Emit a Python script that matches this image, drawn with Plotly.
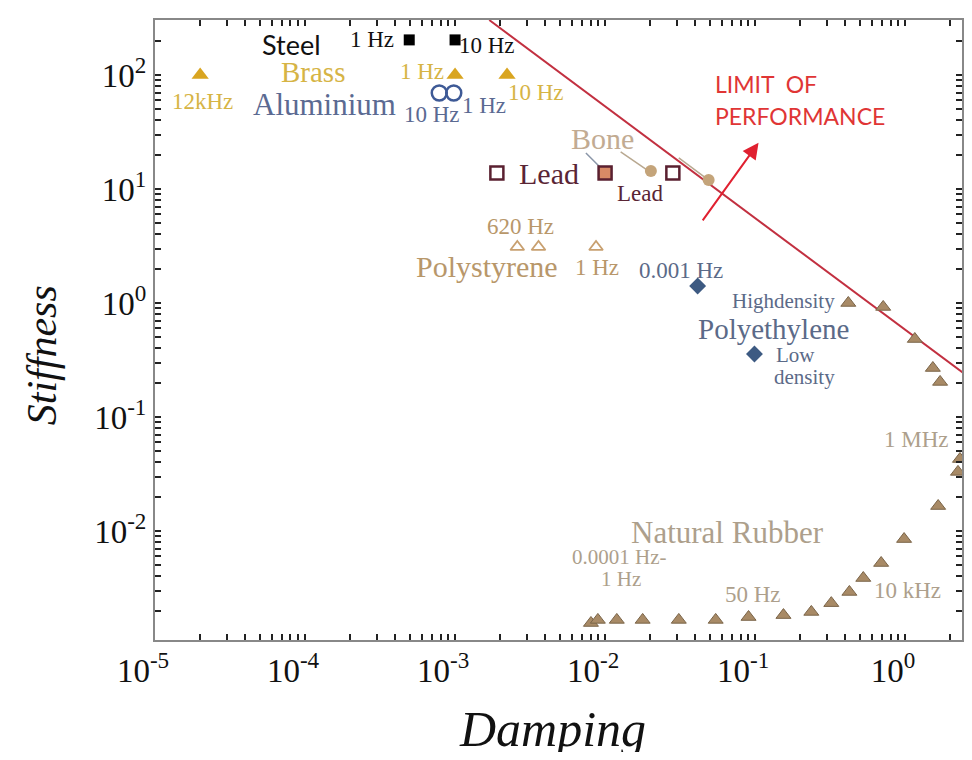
import plotly.graph_objects as go
import math

# ---------------- data ----------------
steel_x = [4.95e-4, 1.0e-3]
steel_y = [203, 203]

brass_x = [2.0e-5, 1.0e-3, 2.22e-3]
brass_y = [100, 100, 100]

alu_x = [7.85e-4, 9.8e-4]
alu_y = [69.5, 69.5]

lead_open_x = [1.9e-3, 2.83e-2]
lead_open_y = [13.8, 13.8]
lead_fill_x = [1.0e-2]
lead_fill_y = [13.8]

bone_x = [0.0202, 0.049]
bone_y = [14.4, 12.0]

polystyrene_x = [2.6e-3, 3.6e-3, 8.7e-3]
polystyrene_y = [3.1, 3.1, 3.1]

polyethylene_x = [0.0414, 0.099]
polyethylene_y = [1.41, 0.357]

rubber_x = [8.05e-3, 8.95e-3, 0.01197, 0.0178, 0.031, 0.0546, 0.0904, 0.1545,
            0.237, 0.322, 0.425, 0.526, 0.692, 0.984, 1.66, 2.25, 2.32, 2.51,
            1.71, 1.53, 1.16, 0.714, 0.418]
rubber_y = [1.56e-3, 1.66e-3, 1.66e-3, 1.66e-3, 1.66e-3, 1.66e-3, 1.76e-3, 1.83e-3,
            1.95e-3, 2.33e-3, 2.92e-3, 3.87e-3, 5.24e-3, 8.5e-3, 0.01656, 0.033, 0.0428, 0.0641,
            0.203, 0.269, 0.483, 0.923, 1.0]

limit_x = [1.69e-3, 2.7]
limit_y = [303, 0.22]

leader_lines = [
    ([7.45e-3, 9.38e-3], [20.7, 15.3], "#8a96a8"),
    ([0.0127, 0.019], [21.1, 14.7], "#b8a890"),
    ([0.031, 0.0468], [18.7, 12.5], "#b8a890"),
]

x_decades = [-5, -4, -3, -2, -1, 0]
y_decades = [-2, -1, 0, 1, 2]

# labels: text, log10 x, log10 y, color, size, family
SERIF = "Liberation Serif"
SANS = "Lato"
labels = [
    ("Steel", -4.089, 2.263, "#111111", 27, SANS),
    ("1 Hz", -3.551, 2.307, "#111111", 23, SERIF),
    ("10 Hz", -2.786, 2.254, "#111111", 23, SERIF),
    ("Brass", -3.949, 2.026, "#d6b445", 29, SERIF),
    ("1 Hz", -3.218, 2.026, "#d6b445", 23, SERIF),
    ("12kHz", -4.681, 1.763, "#d6b445", 23, SERIF),
    ("10 Hz", -2.46, 1.842, "#d6b445", 23, SERIF),
    ("Aluminium", -3.870, 1.737, "#5b6a92", 31, SERIF),
    ("10 Hz", -3.152, 1.649, "#5b6a92", 23, SERIF),
    ("1 Hz", -2.806, 1.728, "#5b6a92", 23, SERIF),
    ("Bone", -2.015, 1.447, "#c2ab92", 30, SERIF),
    ("Lead", -2.374, 1.132, "#5a2535", 30, SERIF),
    ("Lead", -1.769, 0.956, "#5a2535", 23, SERIF),
    ("620 Hz", -2.566, 0.667, "#b8976a", 23, SERIF),
    ("Polystyrene", -2.786, 0.316, "#b8976a", 30, SERIF),
    ("1 Hz", -2.055, 0.307, "#b8976a", 23, SERIF),
    ("0.001 Hz", -1.496, 0.289, "#5b6a88", 23, SERIF),
    ("Highdensity", -0.811, 0.018, "#5b6a88", 21, SERIF),
    ("Polyethylene", -0.878, -0.228, "#5b6a88", 29, SERIF),
    ("Low", -0.731, -0.46, "#5b6a88", 21, SERIF),
    ("density", -0.672, -0.652, "#5b6a88", 21, SERIF),
    ("1 MHz", 0.073, -1.193, "#ad9f8c", 23, SERIF),
    ("Natural Rubber", -1.184, -2.009, "#ad9f8c", 31, SERIF),
    ("0.0001 Hz-", -1.908, -2.228, "#ad9f8c", 21, SERIF),
    ("1 Hz", -1.895, -2.42, "#ad9f8c", 21, SERIF),
    ("50 Hz", -1.011, -2.553, "#ad9f8c", 23, SERIF),
    ("10 kHz", 0.013, -2.518, "#ad9f8c", 23, SERIF),
]

# ---------------- figure ----------------
fig = go.Figure()

fig.add_trace(go.Scatter(x=limit_x, y=limit_y, mode="lines",
                         line=dict(color="#c23040", width=2), hoverinfo="skip"))

for lx, ly, col in leader_lines:
    fig.add_trace(go.Scatter(x=lx, y=ly, mode="lines",
                             line=dict(color=col, width=1.5), hoverinfo="skip"))

fig.add_trace(go.Scatter(x=steel_x, y=steel_y, mode="markers",
                         marker=dict(symbol="square", size=11, color="#000000")))
fig.add_trace(go.Scatter(x=brass_x, y=brass_y, mode="markers",
                         marker=dict(symbol="triangle-up", size=15, color="#d9a520")))
fig.add_trace(go.Scatter(x=alu_x, y=alu_y, mode="markers",
                         marker=dict(symbol="circle-open", size=15, color="#3e5a96",
                                     line=dict(width=2.5))))
fig.add_trace(go.Scatter(x=lead_open_x, y=lead_open_y, mode="markers",
                         marker=dict(symbol="square", size=13, color="#ffffff",
                                     line=dict(color="#5a2030", width=2.5))))
fig.add_trace(go.Scatter(x=lead_fill_x, y=lead_fill_y, mode="markers",
                         marker=dict(symbol="square", size=13, color="#d88a66",
                                     line=dict(color="#5a2030", width=2.5))))
fig.add_trace(go.Scatter(x=bone_x, y=bone_y, mode="markers",
                         marker=dict(symbol="circle", size=12, color="#c4a47a")))
fig.add_trace(go.Scatter(x=polystyrene_x, y=polystyrene_y, mode="markers",
                         marker=dict(symbol="triangle-up-open", size=12, color="#c8a070",
                                     line=dict(width=1.8))))
fig.add_trace(go.Scatter(x=polyethylene_x, y=polyethylene_y, mode="markers",
                         marker=dict(symbol="diamond", size=13, color="#3d5a82")))
fig.add_trace(go.Scatter(x=rubber_x, y=rubber_y, mode="markers", cliponaxis=False,
                         marker=dict(symbol="triangle-up", size=13, color="#a88a66",
                                     line=dict(color="#7a6448", width=1))))

annotations = []
for text, ax_, ay_, col, size, fam in labels:
    annotations.append(dict(x=ax_, y=ay_, xref="x", yref="y", text=text, showarrow=False,
                            font=dict(color=col, size=size, family=fam),
                            xanchor="center", yanchor="middle"))

annotations += [
    dict(x=-1.283, y=1.921, xref="x", yref="y", text="LIMIT&nbsp;&nbsp;OF", showarrow=False,
         xanchor="left", yanchor="middle", font=dict(color="#e03535", size=23, family=SANS)),
    dict(x=-1.283, y=1.640, xref="x", yref="y", text="PERFORMANCE", showarrow=False,
         xanchor="left", yanchor="middle", font=dict(color="#e03535", size=23, family=SANS)),
    dict(x=math.log10(0.1054), y=math.log10(25.4), ax=math.log10(0.044), ay=math.log10(5.14),
         xref="x", yref="y", axref="x", ayref="y", text="", showarrow=True,
         arrowhead=2, arrowsize=1.6, arrowwidth=2, arrowcolor="#e02030"),
    dict(x=-0.1397, y=0.4597, xref="paper", yref="paper", text="<i>Stiffness</i>",
         showarrow=False, textangle=-90, xanchor="center", yanchor="middle",
         font=dict(size=42, family=SERIF, color="#111111")),
    dict(x=0.492, y=-0.1435, xref="paper", yref="paper", text="<i>Damping</i>",
         showarrow=False, xanchor="center", yanchor="middle",
         font=dict(size=50, family=SERIF, color="#111111")),
]

# tick positions: decades labelled, 2..9 unlabelled
x_tick_vals, x_tick_text = [], []
for e in x_decades:
    x_tick_vals.append(10.0 ** e)
    x_tick_text.append("10<sup>%d</sup>" % e)
    if e < 0:
        for m in range(2, 10):
            x_tick_vals.append(m * 10.0 ** e)
            x_tick_text.append("")
for m in range(2, 3):
    x_tick_vals.append(m * 1.0)
    x_tick_text.append("")

y_tick_vals, y_tick_text = [], []
for m in range(2, 10):
    y_tick_vals.append(m * 10.0 ** -3)
    y_tick_text.append("")
for e in y_decades:
    y_tick_vals.append(10.0 ** e)
    y_tick_text.append("10<sup>%d</sup>" % e)
    for m in range(2, 10):
        y_tick_vals.append(m * 10.0 ** e)
        y_tick_text.append("")

fig.update_layout(
    width=956, height=744,
    margin=dict(l=147, r=0, t=12, b=112),
    paper_bgcolor="white", plot_bgcolor="white",
    showlegend=False,
    annotations=annotations,
    xaxis=dict(type="log", range=[-5, 0.379], showgrid=False, zeroline=False,
               showline=True, linecolor="#888888", linewidth=2, mirror="ticks",
               ticks="inside", ticklen=6, tickwidth=1.5, tickcolor="#222222",
               tickmode="array", tickvals=x_tick_vals, ticktext=x_tick_text,
               ticklabelshift=-12,
               tickfont=dict(family=SERIF, size=33, color="#111111")),
    yaxis=dict(type="log", range=[-2.956, 2.482], showgrid=False, zeroline=False,
               showline=True, linecolor="#888888", linewidth=2, mirror="ticks",
               ticks="inside", ticklen=6, tickwidth=1.5, tickcolor="#222222",
               tickmode="array", tickvals=y_tick_vals, ticktext=y_tick_text,
               tickfont=dict(family=SERIF, size=33, color="#111111")),
)

fig.write_html("out.html")
